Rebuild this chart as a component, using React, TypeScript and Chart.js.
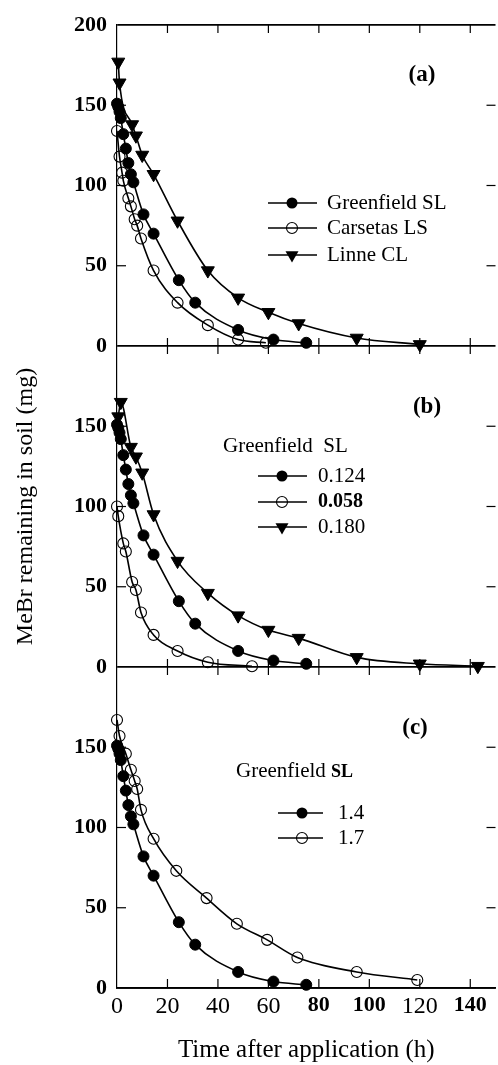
import React, { useEffect, useRef } from 'react';
import { Chart, registerables } from 'chart.js';

Chart.register(...registerables);

const SERIF = "'Liberation Serif', 'DejaVu Serif', serif";

// ---------- data (time in h, MeBr remaining in mg) ----------
// Greenfield SL (same curve in panels a, b (0.124) and c (1.4))
const greenfieldT = [0, 0.5, 1, 1.5, 2.5, 3.5, 4.5, 5.5, 6.5, 10.5, 14.5, 24.5, 31, 48, 62, 75];
const greenfieldV = [151, 149, 146, 142, 132, 123, 114, 107, 102, 82, 70, 41, 27, 10, 4, 2];

// Panel (a)
const carsetasT = [0, 1, 2, 2.5, 4.5, 5.5, 7, 8, 9.5, 14.5, 24, 36, 48, 59];
const carsetasV = [134, 118, 108, 103, 92, 87, 79, 75, 67, 47, 27, 13, 4, 2];
const linneT = [0.5, 1, 6, 7.5, 10, 14.5, 24, 36, 48, 60, 72, 95, 120];
const linneV = [177, 164, 138, 131, 119, 107, 78, 47, 30, 21, 14, 5, 1];

// Panel (b)
const b058T = [0, 0.5, 2.5, 3.5, 6, 7.5, 9.5, 14.5, 24, 36, 53.5];
const b058V = [100, 94, 77, 72, 53, 48, 34, 20, 10, 3, 0.5];
const b180T = [0.5, 1.5, 5.5, 7.5, 10, 14.5, 24, 36, 48, 60, 72, 95, 120, 143];
const b180V = [156, 165, 137, 131, 121, 95, 66, 46, 32, 23, 18, 6, 2, 0.5];

// Panel (c)
const c17T = [0, 1, 3.5, 5.5, 7, 8, 9.5, 14.5, 23.5, 35.5, 47.5, 59.5, 71.5, 95, 119];
const c17V = [167, 157, 146, 136, 129, 124, 111, 93, 73, 56, 40, 30, 19, 10, 5];

// labels
const panelLabels = ['(a)', '(b)', '(c)'];
const legendA = ['Greenfield SL', 'Carsetas LS', 'Linne CL'];
const legendB = ['0.124', '0.058', '0.180'];
const legendC = ['1.4', '1.7'];
const legendHeader = ['Greenfield', 'SL'];
const xTitle = 'Time after application (h)';
const yTitle = 'MeBr remaining in soil (mg)';
const boldXTicks = [80, 100, 140];

const pts = (t: number[], v: number[]) => t.map((x, i) => ({ x, y: v[i] }));

type Kind = 'filled' | 'open' | 'tri';

function makeSet(label: string, t: number[], v: number[], kind: Kind, axis: string, bold = false) {
  return {
    label,
    data: pts(t, v),
    yAxisID: axis,
    kind,
    legendBold: bold,
    borderColor: '#000',
    borderWidth: 1.6,
    cubicInterpolationMode: 'monotone',
    fill: false,
    clip: false,
    pointStyle: kind === 'tri' ? 'triangle' : 'circle',
    rotation: kind === 'tri' ? 180 : 0,
    pointRadius: kind === 'tri' ? 7.5 : 5.5,
    pointBorderWidth: kind === 'open' ? 1.1 : 1,
    pointBorderColor: '#000',
    pointBackgroundColor: kind === 'open' ? 'rgba(0,0,0,0)' : '#000',
  };
}

function drawMarker(ctx: CanvasRenderingContext2D, kind: Kind, x: number, y: number) {
  ctx.save();
  ctx.fillStyle = '#000';
  ctx.strokeStyle = '#000';
  ctx.lineWidth = 1.1;
  ctx.beginPath();
  if (kind === 'tri') {
    const r = 7.5;
    const s = Math.sin(Math.PI / 3) * r;
    ctx.moveTo(x, y + r);
    ctx.lineTo(x - s, y - r / 2);
    ctx.lineTo(x + s, y - r / 2);
    ctx.closePath();
    ctx.fill();
  } else {
    ctx.arc(x, y, 5.5, 0, Math.PI * 2);
    if (kind === 'filled') ctx.fill();
    else ctx.stroke();
  }
  ctx.restore();
}

const decorPlugin = {
  id: 'decor',
  afterDraw(chart: any) {
    const { ctx, chartArea: ca, scales } = chart;
    const xs = scales.x;
    const ys = [scales.yA, scales.yB, scales.yC];
    const line = (x1: number, y1: number, x2: number, y2: number) => {
      ctx.beginPath();
      ctx.moveTo(x1, y1);
      ctx.lineTo(x2, y2);
      ctx.stroke();
    };
    ctx.save();
    ctx.strokeStyle = '#000';
    ctx.lineWidth = 1.2;
    // inward y ticks, left and right
    ys.forEach((s: any) => {
      s.ticks.forEach((t: any) => {
        if (t.value <= 0 || t.value >= 200) return;
        const py = s.getPixelForValue(t.value);
        line(ca.left, py, ca.left + 9, py);
        line(ca.right - 9, py, ca.right, py);
      });
    });
    // x ticks on every panel border
    xs.ticks.forEach((t: any) => {
      if (t.value <= 0) return;
      const px = xs.getPixelForValue(t.value);
      const top = ys[0].getPixelForValue(200);
      line(px, top, px, top + 8);
      const b1 = ys[0].getPixelForValue(0);
      line(px, b1 - 8, px, b1 + 8);
      const b2 = ys[1].getPixelForValue(0);
      line(px, b2 - 8, px, b2 + 8);
      const b3 = ys[2].getPixelForValue(0);
      line(px, b3 - 9, px, b3);
    });
    ctx.restore();

    const ds = chart.data.datasets;
    const text = (s: string, x: number, y: number, font: string, align: CanvasTextAlign = 'left') => {
      ctx.save();
      ctx.fillStyle = '#000';
      ctx.font = font;
      ctx.textAlign = align;
      ctx.textBaseline = 'middle';
      ctx.fillText(s, x, y);
      const w = ctx.measureText(s).width;
      ctx.restore();
      return w;
    };
    const reg = (n: number) => `${n}px ${SERIF}`;
    const bold = (n: number) => `bold ${n}px ${SERIF}`;

    // panel labels
    const labelPos = [
      [305, 50],
      [310, 61],
      [298, 61],
    ];
    ys.forEach((s: any, i: number) => {
      const top = s.getPixelForValue(200);
      text(panelLabels[i], ca.left + labelPos[i][0], top + labelPos[i][1], bold(23), 'center');
    });

    const legendRow = (idx: number, y: number, x1: number, x2: number, xm: number, xt: number, size: number) => {
      const d = ds[idx];
      ctx.save();
      ctx.strokeStyle = '#000';
      ctx.lineWidth = 1.6;
      line(x1, y, x2, y);
      ctx.restore();
      drawMarker(ctx, d.kind, xm, y);
      text(d.label, xt, y, d.legendBold ? bold(size - 1) : reg(size));
    };

    // legend (a)
    const topA = ys[0].getPixelForValue(200);
    [0, 1, 2].forEach((idx, k) => {
      const y = topA + [178, 203, 230][k];
      legendRow(idx, y, ca.left + 151, ca.left + 200, ca.left + 175, ca.left + 210, 21);
    });

    // legend (b)
    const topB = ys[1].getPixelForValue(200);
    const wB = text(legendHeader[0] + '  ', ca.left + 106, topB + 100, reg(21));
    text(legendHeader[1], ca.left + 106 + wB, topB + 100, reg(21));
    [3, 4, 5].forEach((idx, k) => {
      const y = topB + [130, 156, 181][k];
      legendRow(idx, y, ca.left + 141, ca.left + 190, ca.left + 165, ca.left + 201, 21);
    });

    // legend (c)
    const topC = ys[2].getPixelForValue(200);
    const wC = text(legendHeader[0] + ' ', ca.left + 119, topC + 104, reg(21));
    text(legendHeader[1], ca.left + 119 + wC, topC + 105, bold(18));
    [6, 7].forEach((idx, k) => {
      const y = topC + [146, 171][k];
      legendRow(idx, y, ca.left + 161, ca.left + 206, ca.left + 185, ca.left + 221, 21);
    });
  },
};

function yScale(showTop: boolean, withTitle: boolean) {
  return {
    type: 'linear',
    position: 'left',
    stack: 'panels',
    stackWeight: 1,
    min: 0,
    max: 200,
    afterFit: (s: any) => {
      s.width = 117;
    },
    ticks: {
      stepSize: 50,
      padding: 10,
      color: '#000',
      font: { family: SERIF, size: 22, weight: 'bold' },
      callback: (v: any) => (v === 200 && !showTop ? '' : String(v)),
    },
    grid: {
      drawTicks: false,
      lineWidth: 1.7,
      color: (c: any) =>
        c.tick && (c.tick.value === 0 || (showTop && c.tick.value === 200)) ? '#000' : 'rgba(0,0,0,0)',
    },
    border: { display: true, color: '#000', width: 1.2 },
    title: {
      display: withTitle,
      text: yTitle,
      color: '#000',
      font: { family: SERIF, size: 24 },
      padding: { top: 11, bottom: 0 },
    },
  };
}

export default function App() {
  const ref = useRef<HTMLCanvasElement | null>(null);
  useEffect(() => {
    if (!ref.current) return;
    const chart = new Chart(ref.current, {
      type: 'line',
      data: {
        datasets: [
          makeSet(legendA[0], greenfieldT, greenfieldV, 'filled', 'yA'),
          makeSet(legendA[1], carsetasT, carsetasV, 'open', 'yA'),
          makeSet(legendA[2], linneT, linneV, 'tri', 'yA'),
          makeSet(legendB[0], greenfieldT, greenfieldV, 'filled', 'yB'),
          makeSet(legendB[1], b058T, b058V, 'open', 'yB', true),
          makeSet(legendB[2], b180T, b180V, 'tri', 'yB'),
          makeSet(legendC[0], greenfieldT, greenfieldV, 'filled', 'yC'),
          makeSet(legendC[1], c17T, c17V, 'open', 'yC'),
        ] as any,
      },
      options: {
        animation: false,
        responsive: false,
        devicePixelRatio: 1,
        events: [],
        layout: { padding: { top: 25, right: 4, left: 0, bottom: 0 } },
        plugins: { legend: { display: false }, tooltip: { enabled: false } },
        scales: {
          x: {
            type: 'linear',
            min: 0,
            max: 150,
            afterFit: (s: any) => {
              s.height = 77;
            },
            ticks: {
              stepSize: 20,
              includeBounds: false,
              padding: 4,
              color: '#000',
              maxRotation: 0,
              font: (c: any) => {
                const v = c.tick ? c.tick.value : 0;
                return boldXTicks.includes(v)
                  ? { family: SERIF, size: 22, weight: 'bold' }
                  : { family: SERIF, size: 24, weight: 'normal' };
              },
            },
            grid: { display: false, drawTicks: false },
            border: { display: true, color: '#000', width: 1.7 },
            title: {
              display: true,
              text: xTitle,
              color: '#000',
              font: { family: SERIF, size: 25 },
              padding: { top: 0, bottom: 0 },
            },
          },
          yC: yScale(false, false),
          yB: yScale(false, true),
          yA: yScale(true, false),
        } as any,
      },
      plugins: [decorPlugin],
    });
    return () => chart.destroy();
  }, []);

  return (
    <div
      style={{
        position: 'fixed',
        left: 0,
        top: 0,
        width: 498,
        height: 1065,
        overflow: 'hidden',
        background: '#fff',
      }}
    >
      <canvas ref={ref} width={504} height={1065} style={{ display: 'block', width: 504, height: 1065 }} />
    </div>
  );
}
